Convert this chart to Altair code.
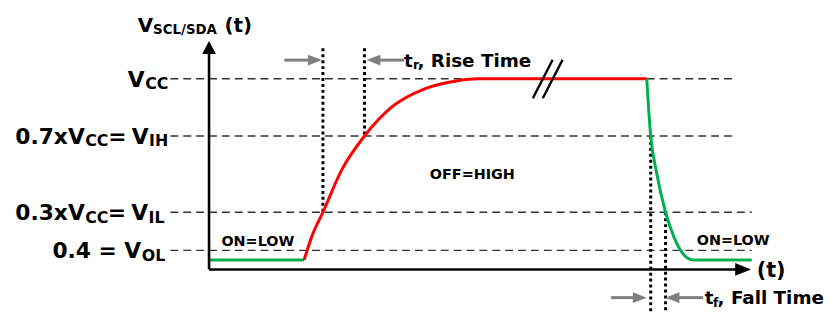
import altair as alt
import pandas as pd

# ---------------- frame: time units (t) and volts (v) ----------------
X_DOMAIN = [-20.3, 62.2]
Y_DOMAIN = [-1.1299, 6.8182]
W, H = 825, 306

# ---------------- threshold levels ----------------
LEVEL_NAMES = ["VCC", "VIH", "VIL", "VOL"]
LEVEL_V = [5.0, 3.5, 1.5, 0.5]
LEVEL_T_START = [-3.9, -3.9, -3.9, -3.9]
LEVEL_T_END = [53.2, 53.2, 54.8, 54.8]

# ---------------- signal ----------------
LOW_T = [0.0, 9.6]
LOW_V = [0.25, 0.25]
RISE_T = [9.6, 10.4, 11.5, 13.4, 15.7, 18.4, 21.7, 25.1, 27.1, 44.2]
RISE_V = [0.25, 0.88, 1.5, 2.61, 3.5, 4.25, 4.73, 4.95, 5.0, 5.0]
FALL_T = [44.2, 44.6, 45.2, 46.1, 46.9, 47.9, 48.9, 54.8]
FALL_V = [5.0, 3.5, 2.53, 1.5, 0.88, 0.40, 0.25, 0.25]

# ---------------- timing markers ----------------
MARK_T = [11.5, 15.7, 44.6, 46.1]
MARK_V_FROM = [5.8, 5.8, 3.5, 1.5]
MARK_V_TO = [1.5, 3.5, -1.13, -1.13]

ARROW_TAIL_T = [7.6, 19.7, 40.6, 49.9]
ARROW_TIP_T = [11.4, 15.9, 44.2, 46.1]
ARROW_V = [5.49, 5.49, -0.74, -0.74]
ARROW_DIR = ["right", "left", "right", "left"]

# ---------------- axes ----------------
AXIS_X_END = 53.4
AXIS_X_TIP = 54.73
AXIS_Y_END = 5.73
AXIS_Y_TIP = 5.99

# ---------------- break marks ----------------
BREAK_T = [32.7, 33.7]
BREAK_T2 = [34.7, 35.7]
BREAK_V = [4.49, 4.49]
BREAK_V2 = [5.50, 5.50]

# ---------------- texts ----------------
TXT = ["V", "SCL/SDA", "(t)",
       "V", "CC",
       "0.7xV", "CC", "=", "V", "IH",
       "0.3xV", "CC", "=", "V", "IL",
       "0.4 = V", "OL",
       "ON=LOW", "OFF=HIGH", "ON=LOW",
       "t", "r", ", Rise Time",
       "t", "f", ", Fall Time",
       "(t)"]
TXT_T = [-7.2, -5.65, 1.55,
         -6.5, -6.45,
         -12.55, -12.5, -9.25, -6.1, -6.05,
         -12.55, -12.5, -9.3, -6.15, -6.1,
         -6.85, -6.8,
         1.25, 22.3, 49.25,
         19.7, 20.6, 21.05,
         50.05, 50.9, 51.35,
         55.3]
TXT_V = [6.22, 6.17, 6.22,
         4.792, 4.727,
         3.292, 3.227, 3.292, 3.292, 3.227,
         1.292, 1.227, 1.292, 1.292, 1.227,
         0.292, 0.227,
         0.618, 2.377, 0.644,
         5.319, 5.26, 5.319,
         -0.914, -0.974, -0.914,
         -0.19]
TXT_SIZE = [20, 13.5, 20,
            22, 16,
            22, 16, 22, 22, 16,
            22, 16, 22, 22, 16,
            22, 16,
            14.5, 14.5, 14.5,
            18.5, 12.5, 18.5,
            18.5, 12.5, 18.5,
            21]
TXT_ALIGN = ["left", "left", "left",
             "right", "left",
             "right", "left", "center", "right", "left",
             "right", "left", "center", "right", "left",
             "right", "left",
             "left", "left", "left",
             "left", "left", "left",
             "left", "left", "left",
             "left"]

FONT = "DejaVu Sans"
xs = alt.Scale(domain=X_DOMAIN, nice=False, zero=False)
ys = alt.Scale(domain=Y_DOMAIN, nice=False, zero=False)


def X(f):
    return alt.X(f, type="quantitative", scale=xs, axis=None)


def Y(f):
    return alt.Y(f, type="quantitative", scale=ys, axis=None)


levels = pd.DataFrame({"name": LEVEL_NAMES, "v": LEVEL_V, "t": LEVEL_T_START, "t2": LEVEL_T_END})
level_layer = alt.Chart(levels).mark_rule(color="#333333", strokeWidth=1.5, strokeDash=[8, 5]).encode(
    x=X("t"), x2="t2", y=Y("v"))

marks = pd.DataFrame({"t": MARK_T, "v": MARK_V_FROM, "v2": MARK_V_TO})
mark_layer = alt.Chart(marks).mark_rule(color="black", strokeWidth=3, strokeDash=[3, 3]).encode(
    x=X("t"), y=Y("v"), y2="v2")

low_df = pd.DataFrame({"t": LOW_T, "v": LOW_V})
rise_df = pd.DataFrame({"t": RISE_T, "v": RISE_V})
fall_df = pd.DataFrame({"t": FALL_T, "v": FALL_V})
low_layer = alt.Chart(low_df).mark_line(color="#00b050", strokeWidth=3).encode(x=X("t"), y=Y("v"))
rise_layer = alt.Chart(rise_df).mark_line(color="#ff0000", strokeWidth=3, interpolate="monotone").encode(
    x=X("t"), y=Y("v"))
fall_layer = alt.Chart(fall_df).mark_line(color="#00b050", strokeWidth=3, interpolate="monotone").encode(
    x=X("t"), y=Y("v"))

# axes
axis_lines = pd.DataFrame({"t": [0.0, 0.0], "v": [0.0, 0.0], "t2": [AXIS_X_END, 0.0], "v2": [0.0, AXIS_Y_END]})
axis_layer = alt.Chart(axis_lines).mark_rule(color="black", strokeWidth=2.6).encode(
    x=X("t"), y=Y("v"), x2="t2", y2="v2")

PATH_RIGHT_BIG = "M0,0L-16,-6.5L-16,6.5Z"
PATH_UP_BIG = "M0,0L7,13L-7,13Z"
PATH_RIGHT = "M0,0L-14,-5.5L-14,5.5Z"
PATH_LEFT = "M0,0L14,-5.5L14,5.5Z"

xhead = alt.Chart(pd.DataFrame({"t": [AXIS_X_TIP], "v": [0.0]})).mark_point(
    filled=True, color="black", opacity=1, strokeWidth=0, shape=PATH_RIGHT_BIG, size=4).encode(
    x=X("t"), y=Y("v"))
yhead = alt.Chart(pd.DataFrame({"t": [0.0], "v": [AXIS_Y_TIP]})).mark_point(
    filled=True, color="black", opacity=1, strokeWidth=0, shape=PATH_UP_BIG, size=4).encode(
    x=X("t"), y=Y("v"))

# gray timing arrows
sign = [1 if d == "right" else -1 for d in ARROW_DIR]
arrows = pd.DataFrame({
    "t": ARROW_TAIL_T,
    "t2": [tip - s * 0.7 for tip, s in zip(ARROW_TIP_T, sign)],
    "tip": ARROW_TIP_T,
    "v": ARROW_V,
    "dir": ARROW_DIR,
})
arrow_shaft = alt.Chart(arrows).mark_rule(color="#7f7f7f", strokeWidth=3).encode(
    x=X("t"), x2="t2", y=Y("v"))
head_r = alt.Chart(arrows[arrows["dir"] == "right"]).mark_point(
    filled=True, color="#7f7f7f", opacity=1, strokeWidth=0, shape=PATH_RIGHT, size=4).encode(
    x=X("tip"), y=Y("v"))
head_l = alt.Chart(arrows[arrows["dir"] == "left"]).mark_point(
    filled=True, color="#7f7f7f", opacity=1, strokeWidth=0, shape=PATH_LEFT, size=4).encode(
    x=X("tip"), y=Y("v"))

breaks = pd.DataFrame({"t": BREAK_T, "t2": BREAK_T2, "v": BREAK_V, "v2": BREAK_V2})
break_layer = alt.Chart(breaks).mark_rule(color="black", strokeWidth=2.4).encode(
    x=X("t"), x2="t2", y=Y("v"), y2="v2")

texts = pd.DataFrame({"text": TXT, "t": TXT_T, "v": TXT_V, "fs": TXT_SIZE, "align": TXT_ALIGN})
text_layers = []
for al in ["left", "center", "right"]:
    sub = texts[texts["align"] == al]
    text_layers.append(
        alt.Chart(sub).mark_text(align=al, baseline="alphabetic", font=FONT, fontWeight="bold", color="black").encode(
            x=X("t"), y=Y("v"), text="text:N", size=alt.Size("fs:Q", scale=None, legend=None)))

chart = alt.layer(
    level_layer, mark_layer, low_layer, rise_layer, fall_layer,
    axis_layer, xhead, yhead, arrow_shaft, head_r, head_l, break_layer, *text_layers
).properties(
    width=W, height=H, padding=0, autosize=alt.AutoSizeParams(type="none"), background="white"
).configure_view(stroke=None)

chart.save("out.html", embed_options={"renderer": "svg", "actions": False})
